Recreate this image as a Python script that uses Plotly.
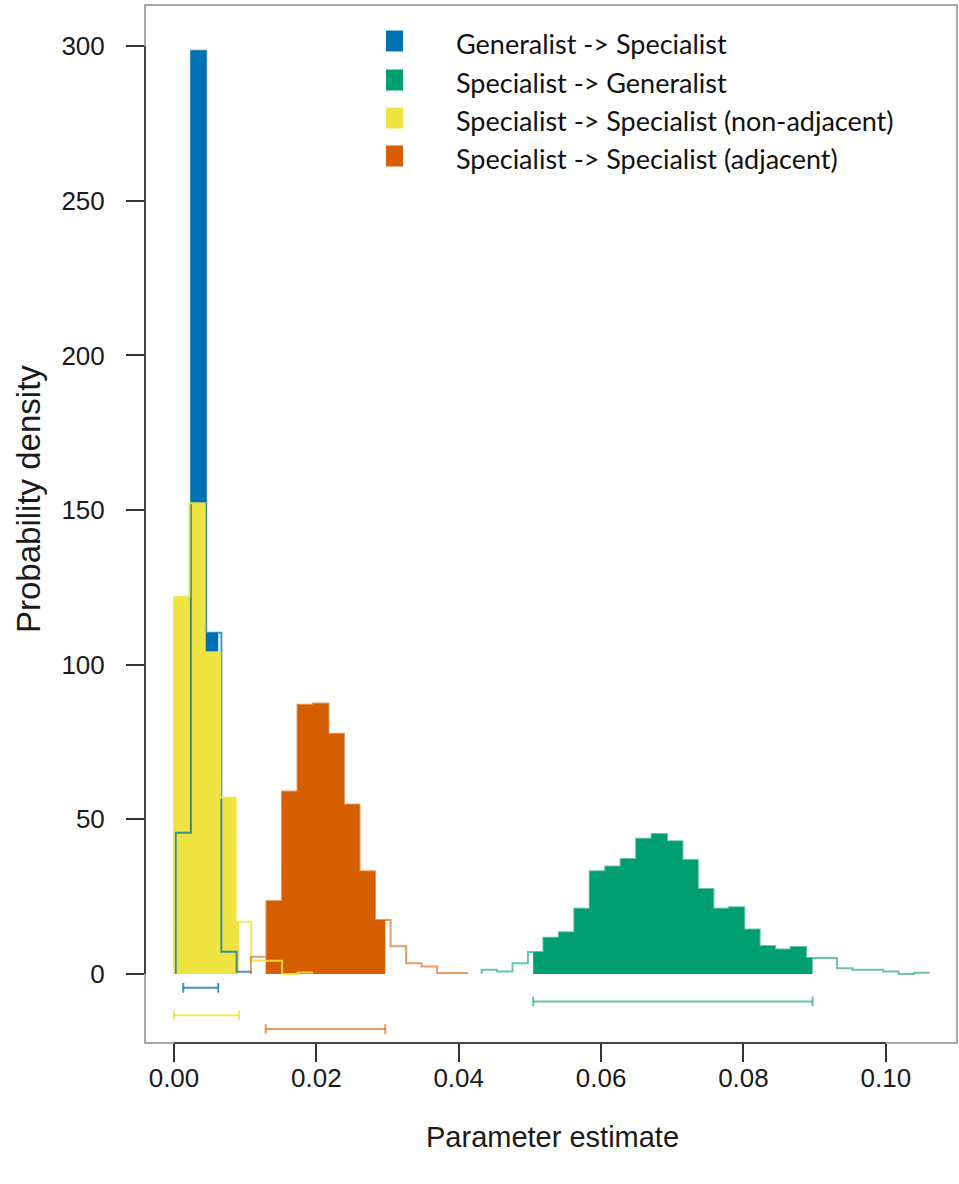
import plotly.graph_objects as go

# Posterior samples of the four transition rates, summarised as density histograms
series_names = [
    "Generalist -> Specialist",
    "Specialist -> Generalist",
    "Specialist -> Specialist (non-adjacent)",
    "Specialist -> Specialist (adjacent)",
]
series_colors = ["#0072B2", "#009E73", "#F0E442", "#D55E00"]
line_colors = ["rgba(0,114,178,0.75)", "rgba(0,158,115,0.6)",
               "rgba(240,228,66,0.85)", "rgba(213,94,0,0.6)"]

# left edge of the first bin and bin width for each series
bin_start = [0.00024, 0.04322, 0.0, 0.01081]
bin_width = [0.00214, 0.00217, 0.00217, 0.00218]

dens_gen_spec = [45.7, 298.5, 110.3, 7.2, 0.7]
dens_spec_gen = [1.4, 0.8, 3.5, 7.1, 11.7, 13.5, 21.1, 33.2, 34.8, 37.2, 43.7,
                 45.3, 42.9, 36.9, 27.5, 21.1, 21.6, 14.4, 9.1, 7.9, 8.7, 5.2,
                 5.2, 1.9, 1.4, 1.4, 0.8, 0.0, 0.4]
dens_spec_nonadj = [122.0, 152.2, 104.0, 57.0, 16.9, 4.3, 4.3, 0.0, 0.5]
dens_spec_adj = [5.6, 23.6, 59.0, 87.1, 87.5, 77.7, 54.8, 33.2, 17.5, 9.0,
                 3.5, 2.4, 0.3, 0.3]
densities = [dens_gen_spec, dens_spec_gen, dens_spec_nonadj, dens_spec_adj]

# 95% highest posterior density intervals
hpd_lower = [0.00131, 0.05046, 0.0, 0.01288]
hpd_upper = [0.00622, 0.08970, 0.00913, 0.02968]

x_ticks = [0.00, 0.02, 0.04, 0.06, 0.08, 0.10]
y_ticks = [0, 50, 100, 150, 200, 250, 300]

W, H = 959, 1184
M_L, M_R, M_T, M_B = 145, 2, 5, 141
X_RANGE = [-0.00407, 0.1100]
Y_RANGE = [-22.3, 313.3]


def px_to_paper_x(px):
    return (px - M_L) / (W - M_L - M_R)


def px_to_paper_y(py):
    return 1 - (py - M_T) / (H - M_T - M_B)


def outline_path(start, width, h):
    edges = [start + i * width for i in range(len(h) + 1)]
    xs = [edges[0]] + edges
    ys = [0.0] + list(h) + [h[-1]]
    return xs, ys


def hpd_path(start, width, h, lo, hi):
    edges = [start + i * width for i in range(len(h) + 1)]
    inner = [e for e in edges if lo + 1e-9 < e < hi - 1e-9]
    xs = [lo] + inner + [hi]
    ys = []
    for x in xs[:-1]:
        idx = int((x - start) / width + 1e-6)
        idx = max(0, min(len(h) - 1, idx))
        ys.append(h[idx])
    ys.append(ys[-1])
    return xs, ys


fig = go.Figure()

# filled HPD region of every series
for k in range(4):
    xs, ys = hpd_path(bin_start[k], bin_width[k], densities[k], hpd_lower[k], hpd_upper[k])
    fig.add_trace(go.Scatter(
        x=xs, y=ys, mode="lines", line=dict(shape="hv", width=0, color=series_colors[k]),
        fill="tozeroy", fillcolor=series_colors[k], hoverinfo="skip", showlegend=False,
    ))

# full histogram outline drawn on top of the fills
for k in range(4):
    xs, ys = outline_path(bin_start[k], bin_width[k], densities[k])
    fig.add_trace(go.Scatter(
        x=xs, y=ys, mode="lines", line=dict(shape="hv", width=2, color=line_colors[k]),
        hoverinfo="skip", showlegend=False,
    ))

# HPD interval bars below the zero line
for k in range(4):
    row = -4.45 * (k + 1)
    fig.add_trace(go.Scatter(
        x=[hpd_lower[k], hpd_upper[k]], y=[row, row], mode="lines+markers",
        line=dict(color=line_colors[k], width=2),
        marker=dict(symbol="line-ns", size=7, line=dict(width=2, color=line_colors[k])),
        hoverinfo="skip", showlegend=False,
    ))

shapes = [
    # plot frame
    dict(type="rect", xref="paper", yref="paper", x0=0, x1=1, y0=0, y1=1,
         line=dict(color="#8c8c8c", width=1.5), layer="above"),
    # axis lines spanning the tick range
    dict(type="line", xref="paper", yref="y", x0=0, x1=0, y0=y_ticks[0], y1=y_ticks[-1],
         line=dict(color="#222222", width=1.5)),
    dict(type="line", xref="x", yref="paper", x0=x_ticks[0], x1=x_ticks[-1], y0=0, y1=0,
         line=dict(color="#222222", width=1.5)),
]

annotations = []
legend_centers = [41, 80, 118, 156]
for k in range(4):
    cy = legend_centers[k]
    shapes.append(dict(
        type="rect", xref="paper", yref="paper",
        x0=px_to_paper_x(386), x1=px_to_paper_x(403),
        y0=px_to_paper_y(cy + 10.5), y1=px_to_paper_y(cy - 10.5),
        fillcolor=series_colors[k], line=dict(width=0),
    ))
    annotations.append(dict(
        text=series_names[k], xref="paper", yref="paper",
        x=px_to_paper_x(454), y=px_to_paper_y(cy + 2), xanchor="left", yanchor="middle",
        showarrow=False, font=dict(family="Lato, Carlito, sans-serif", size=27, color="#111111"),
    ))

annotations.append(dict(
    text="Probability density", xref="paper", yref="paper",
    x=px_to_paper_x(28), y=px_to_paper_y(499), xanchor="center", yanchor="middle",
    textangle=-90, showarrow=False,
    font=dict(family="Liberation Sans, Arial, sans-serif", size=33, color="#1a1a1a"),
))
annotations.append(dict(
    text="Parameter estimate", xref="paper", yref="paper",
    x=px_to_paper_x(552), y=px_to_paper_y(1137), xanchor="center", yanchor="middle",
    showarrow=False,
    font=dict(family="Liberation Sans, Arial, sans-serif", size=29, color="#1a1a1a"),
))

tick_font = dict(family="Liberation Sans, Arial, sans-serif", size=26, color="#1a1a1a")

fig.update_layout(
    width=W, height=H,
    margin=dict(l=M_L, r=M_R, t=M_T, b=M_B),
    paper_bgcolor="white", plot_bgcolor="white",
    showlegend=False,
    xaxis=dict(
        range=X_RANGE, tickvals=x_ticks, ticktext=[f"{v:.2f}" for v in x_ticks],
        ticks="outside", ticklen=18, tickwidth=1.5, tickcolor="#333333",
        showgrid=False, zeroline=False, showline=False, tickfont=tick_font,
        ticklabelstandoff=-6,
    ),
    yaxis=dict(
        range=Y_RANGE, tickvals=y_ticks, ticktext=[str(v) for v in y_ticks],
        ticks="outside", ticklen=18, tickwidth=1.5, tickcolor="#333333",
        showgrid=False, zeroline=False, showline=False, tickfont=tick_font,
        ticklabelstandoff=16,
    ),
    shapes=shapes,
    annotations=annotations,
)

fig.write_html("out.html")
